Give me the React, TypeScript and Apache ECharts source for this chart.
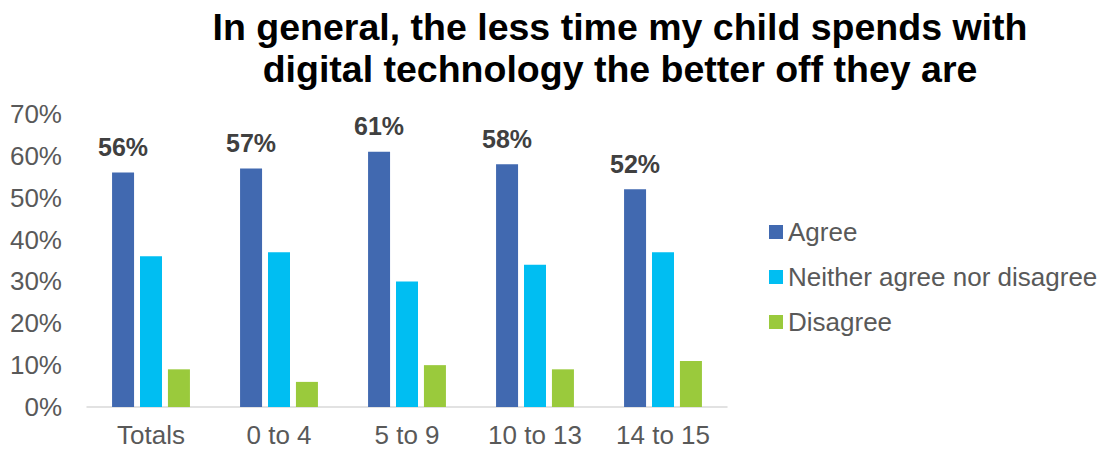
import React, { useEffect, useRef } from "react";
import * as echarts from "echarts";

const categories = ["Totals", "0 to 4", "5 to 9", "10 to 13", "14 to 15"];
const agree = [56, 57, 61, 58, 52];
const neither = [36, 37, 30, 34, 37];
const disagree = [9, 6, 10, 9, 11];
const seriesNames = ["Agree", "Neither agree nor disagree", "Disagree"];
const titleText = "In general, the less time my child spends with\ndigital technology the better off they are";

const FONT = "'Liberation Sans', Arial, sans-serif";

export default function App() {
  const ref = useRef<HTMLDivElement>(null);
  useEffect(() => {
    if (!ref.current) return;
    const chart = echarts.init(ref.current, null, { renderer: "svg" });
    chart.setOption({
      animation: false,
      backgroundColor: "#ffffff",
      textStyle: { fontFamily: FONT },
      title: {
        text: titleText,
        left: 620,
        textAlign: "center",
        top: 6,
        padding: 0,
        textStyle: {
          fontFamily: FONT,
          fontSize: 37.5,
          fontWeight: "bold",
          color: "#000000",
          lineHeight: 42,
        },
      },
      legend: {
        orient: "vertical",
        left: 769,
        top: 219,
        padding: 0,
        itemWidth: 14,
        itemHeight: 14,
        itemGap: 19,
        icon: "rect",
        textStyle: { fontFamily: FONT, fontSize: 26, color: "#595959" },
        data: seriesNames,
      },
      grid: { left: 87, right: 384, top: 114, bottom: 43, containLabel: false },
      xAxis: {
        type: "category",
        data: categories,
        axisLine: { lineStyle: { color: "#D9D9D9", width: 1.5 } },
        axisTick: { show: false },
        axisLabel: { fontFamily: FONT, fontSize: 26, lineHeight: 26, color: "#595959", margin: 15 },
      },
      yAxis: {
        type: "value",
        min: 0,
        max: 70,
        interval: 10,
        axisLine: { show: false },
        axisTick: { show: false },
        splitLine: { show: false },
        axisLabel: {
          fontFamily: FONT,
          fontSize: 26,
          color: "#595959",
          margin: 25,
          formatter: "{value}%",
        },
      },
      series: [
        {
          name: seriesNames[0],
          type: "bar",
          data: agree,
          barWidth: 22,
          barGap: "27%",
          itemStyle: { color: "#4169B0" },
          label: {
            show: true,
            position: "top",
            distance: 13,
            formatter: "{c}%",
            fontFamily: FONT,
            fontSize: 25,
            fontWeight: "bold",
            color: "#404040",
          },
        },
        {
          name: seriesNames[1],
          type: "bar",
          data: neither,
          barWidth: 22,
          barGap: "27%",
          itemStyle: { color: "#00BEF2" },
        },
        {
          name: seriesNames[2],
          type: "bar",
          data: disagree,
          barWidth: 22,
          barGap: "27%",
          itemStyle: { color: "#9ACA3C" },
        },
      ],
    });
    return () => chart.dispose();
  }, []);
  return (
    <div
      ref={ref}
      style={{ position: "fixed", left: 0, top: 0, width: 1111, height: 450 }}
    />
  );
}
